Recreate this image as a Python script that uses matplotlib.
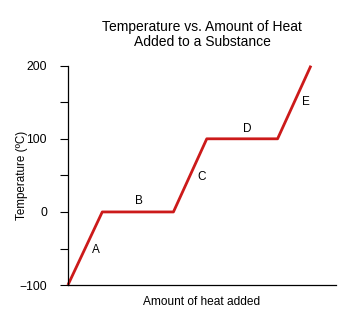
import matplotlib
matplotlib.use("Agg")
import matplotlib.pyplot as plt

# heating curve: heat added vs temperature
heat = [0, 10, 30.7, 40.4, 61.0, 70.7]
temperature = [-100, 0, 0, 100, 100, 200]

# segment labels
seg_names = ["A", "B", "C", "D", "E"]
seg_x = [8.1, 20.7, 39.0, 52.1, 69.3]
seg_y = [-52, 15, 48, 113, 150]

y_ticks = [-100, 0, 100, 200]
y_minor = [-50, 50, 150]

plt.rcParams['font.family'] = ['Liberation Sans', 'DejaVu Sans']

fig = plt.figure(figsize=(3.5, 3.35), dpi=100)
ax = fig.add_axes([0.194, 0.149, 0.766, 0.655])

ax.plot(heat, temperature, color='#cc1a1a', linewidth=2, solid_capstyle='butt', clip_on=False)
for name, x, y in zip(seg_names, seg_x, seg_y):
    ax.text(x, y, name, ha='center', va='center', fontsize=8.5)

ax.set_xlim(0, 78)
ax.set_ylim(-100, 200)
ax.set_yticks(y_ticks)
ax.set_yticks(y_minor, minor=True)
ax.set_xticks([])
ax.tick_params(axis='y', which='both', length=6, width=0.8, labelsize=8.7, direction='out', pad=9)

for side in ['top', 'right']:
    ax.spines[side].set_visible(False)
for side in ['left', 'bottom']:
    ax.spines[side].set_linewidth(0.9)

ax.set_ylabel('Temperature (\u00baC)', fontsize=8.4)
ax.yaxis.set_label_coords(-0.15, 0.5)
ax.set_xlabel('Amount of heat added', fontsize=8.6, labelpad=8)
ax.set_title('Temperature vs. Amount of Heat\nAdded to a Substance', fontsize=10, pad=14, linespacing=1.1)

fig.savefig('out.png', dpi=100)
